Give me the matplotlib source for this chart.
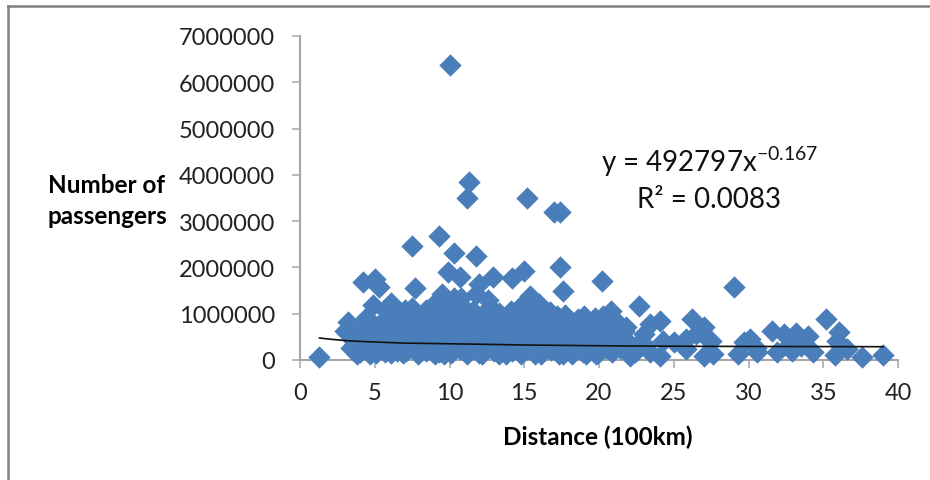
import matplotlib
matplotlib.use("Agg")
import matplotlib.pyplot as plt
from matplotlib.lines import Line2D

# Distance (100 km) and passengers (thousands)
outlier_x = [10.0, 11.3, 11.2, 15.2, 17.0, 17.4, 9.3, 10.3, 7.5, 11.8, 17.4, 4.2, 5.0, 5.3, 7.7, 9.9, 10.7,
             12.9, 14.2, 15.0, 20.2, 12.0, 11.8, 15.4, 17.6, 22.7, 29.0, 35.2, 26.2, 27.0, 20.8, 1.3]
outlier_y = [6370, 3840, 3490, 3490, 3200, 3200, 2680, 2320, 2460, 2240, 2010, 1680, 1750, 1570, 1550, 1900, 1790,
             1790, 1770, 1920, 1710, 1640, 1420, 1380, 1490, 1160, 1570, 880, 880, 710, 1060, 70]

right_x = [24.1, 23.4, 36.05, 31.6, 32.4, 33.2, 34.0, 30.1, 29.7, 37.6, 39.0, 36.6, 35.8, 34.3, 32.9, 31.9, 30.6,
           29.3, 27.6, 27.0, 27.5, 25.8, 25.0, 25.8, 24.1, 23.4, 22.1, 22.6, 21.7, 23.0, 24.3, 26.5, 27.2, 33.5, 32.7,
           30.5, 35.9, 36.2, 21.2, 21.9, 22.4, 23.1, 20.9, 20.3]
right_y = [850, 780, 600, 630, 560, 580, 520, 450, 380, 70, 110, 240, 110, 170, 200, 170, 170,
           130, 130, 90, 410, 240, 390, 450, 90, 170, 90, 340, 620, 560, 400, 560, 480, 300, 320,
           260, 420, 300, 820, 420, 180, 330, 240, 880]

dense_x = [3.0, 3.2, 3.6, 3.9, 4.1, 4.4, 4.7, 4.9, 5.2, 5.3, 5.6, 5.8, 6.1, 6.1, 6.4, 6.6, 6.7, 7.0, 7.1, 7.4,
           7.5, 7.7, 7.9, 8.1, 8.2, 8.4, 8.6, 8.8, 9.0, 9.0, 9.2, 9.4, 9.5, 9.7, 9.8, 10.0, 10.1, 10.3, 10.4, 10.6,
           10.7, 10.9, 11.0, 11.2, 11.4, 11.5, 11.7, 11.9, 12.2, 12.3, 12.5, 12.7, 12.8, 13.0, 13.1, 13.3, 13.5, 13.6, 13.8,
           14.0, 14.1, 14.3, 14.5, 14.6, 14.8, 15.0, 15.1, 15.3, 15.5, 15.6, 15.8, 16.0, 16.1, 16.3, 16.5, 16.7, 16.8, 17.0, 17.2,
           17.3, 17.5, 17.7, 17.9, 18.0, 18.2, 18.4, 18.6, 18.8, 19.0, 19.1, 19.3, 19.5, 19.7, 19.9, 20.0, 20.3, 20.5, 20.8, 21.1,
           4.0, 4.8, 5.5, 6.3, 6.9, 7.6, 8.3, 8.9, 9.6, 10.2, 10.9, 11.6, 12.4, 13.2, 13.9, 14.7, 15.4, 16.2, 16.9, 17.6,
           18.3, 19.0, 19.8, 20.6, 3.4, 4.3, 5.1, 5.9, 6.5, 7.2, 8.0, 8.7, 9.3, 9.9, 10.5, 11.3, 12.1, 12.9, 13.7, 14.4,
           15.2, 15.9, 16.6, 17.4, 18.1, 18.9, 19.6, 20.1, 21.4, 9.1, 9.5, 8.5, 10.0, 10.8, 15.7, 16.0, 14.9, 12.6, 13.4, 6.0]
dense_y = [620, 820, 420, 240, 640, 900, 130, 1190, 520, 260, 870, 1040, 160, 1230, 660, 960, 360, 1090, 190, 780,
           1120, 440, 130, 950, 640, 1080, 290, 820, 1230, 130, 1000, 520, 1420, 270, 1150, 760, 150, 1330, 500, 980,
           230, 730, 1120, 120, 520, 900, 280, 700, 130, 960, 430, 1150, 680, 190, 920, 1020, 430, 710, 130,
           960, 1050, 300, 660, 910, 120, 1240, 480, 790, 1130, 210, 1010, 650, 130, 870, 400, 1040, 210, 700, 940,
           120, 460, 980, 280, 780, 130, 590, 890, 330, 950, 130, 640, 420, 900, 160, 690, 960, 270, 770, 530,
           180, 340, 800, 480, 650, 300, 480, 170, 760, 290, 470, 1060, 270, 620, 420, 330, 970, 270, 480, 240,
           350, 470, 240, 480, 250, 420, 160, 370, 200, 620, 250, 560, 170, 440, 880, 350, 560, 340, 280, 820,
           240, 370, 280, 700, 180, 180, 700, 430, 260, 1100, 1280, 1000, 1050, 1330, 850, 1200, 1150, 1290, 960, 700]

fill_x = [3.7, 4.5, 4.6, 5.0, 5.4, 5.7, 6.2, 6.3, 6.8, 6.9, 7.3, 7.4, 7.8, 8.0, 8.4, 8.6, 9.0, 9.2, 9.6, 9.8,
          10.1, 10.4, 10.7, 11.0, 11.2, 11.5, 11.8, 12.0, 12.2, 12.5, 12.7, 13.0, 13.3, 13.5, 13.8, 14.0, 14.2, 14.5, 14.9, 15.0,
          15.4, 15.7, 16.0, 16.3, 16.5, 16.8, 17.1, 17.3, 17.6, 17.8, 18.2, 18.5, 18.7, 19.0, 19.3, 19.5, 19.8, 20.2, 20.5, 20.9,
          21.2, 21.6, 5.6, 6.6, 7.7, 8.8, 9.9, 11.0, 12.1, 13.2, 14.3, 15.4, 16.5, 17.6, 18.7, 19.7, 20.7, 21.8, 4.6, 3.8,
          8.1, 10.3, 12.4, 14.6, 16.7, 18.9]
fill_y = [350, 520, 250, 700, 360, 170, 560, 320, 480, 150, 610, 300, 860, 430, 200, 560, 370, 700, 120, 540,
          430, 820, 350, 600, 230, 720, 440, 150, 560, 280, 860, 420, 130, 600, 350, 780, 200, 480, 620, 340,
          560, 140, 440, 680, 250, 860, 350, 600, 140, 660, 420, 250, 540, 700, 320, 560, 130, 440, 640, 170,
          310, 600, 620, 760, 610, 420, 340, 460, 850, 760, 540, 350, 540, 770, 680, 330, 390, 720, 860, 120,
          770, 640, 540, 800, 480, 280]

trend_x = [1.3, 2.0, 3.2, 4.9, 7.0, 12.2, 14.8, 21.0, 27.0, 39.0]
trend_y = [475, 450, 415, 390, 365, 340, 325, 305, 295, 287]

x_ticks = [0, 5, 10, 15, 20, 25, 30, 35, 40]
y_ticks = [0, 1000000, 2000000, 3000000, 4000000, 5000000, 6000000, 7000000]

plt.rcParams['font.family'] = ['Lato', 'DejaVu Sans']
plt.rcParams['mathtext.fontset'] = 'custom'
plt.rcParams['mathtext.rm'] = 'Lato'
plt.rcParams['mathtext.default'] = 'rm'

W, H = 930, 481
fig = plt.figure(figsize=(W / 100, H / 100), dpi=100, facecolor='white')
ax = fig.add_axes([300 / W, 1 - 361 / H, 598 / W, 324 / H])

xs = outlier_x + right_x + dense_x + fill_x
ys = [v * 1000 for v in outlier_y + right_y + dense_y + fill_y]
ax.scatter(xs, ys, marker='D', s=11.4 ** 2, color='#4A7EBB', linewidths=0, clip_on=False, zorder=3)
ax.plot(trend_x, [v * 1000 for v in trend_y], color='#111111', lw=1.2, zorder=4, clip_on=False)

ax.set_xlim(0, 40)
ax.set_ylim(0, 7000000)
ax.set_xticks(x_ticks)
ax.set_yticks(y_ticks)
ax.set_yticklabels([str(v) for v in y_ticks])
for s in ['top', 'right']:
    ax.spines[s].set_visible(False)
for s in ['left', 'bottom']:
    ax.spines[s].set_color('#A6A6A6')
    ax.spines[s].set_linewidth(1.5)
ax.tick_params(axis='both', length=6, width=1.1, color='#A6A6A6', labelsize=17, labelcolor='#222222')
ax.tick_params(axis='x', pad=10, direction='out')
ax.tick_params(axis='y', pad=12, direction='out')

def fx(p):
    return p / W
def fy(p):
    return 1 - p / H

fig.text(fx(710), fy(162), 'y = 492797x$^{-0.167}$', fontsize=20, ha='center', va='center', color='#111111')
fig.text(fx(709), fy(200), 'R² = 0.0083', fontsize=20, ha='center', va='center', color='#111111')
fig.text(fx(107), fy(201), 'Number of\npassengers', fontsize=17.5, fontweight='bold', ha='center', va='center',
         linespacing=1.42, color='black')
fig.text(fx(598), fy(437), 'Distance (100km)', fontsize=17.5, fontweight='bold', ha='center', va='center', color='black')

fig.add_artist(Line2D([fx(8), fx(8)], [fy(481), fy(7)], color='#808080', lw=1.8))
fig.add_artist(Line2D([fx(8), fx(930)], [fy(7), fy(7)], color='#808080', lw=1.8))

fig.savefig('out.png', dpi=100)
